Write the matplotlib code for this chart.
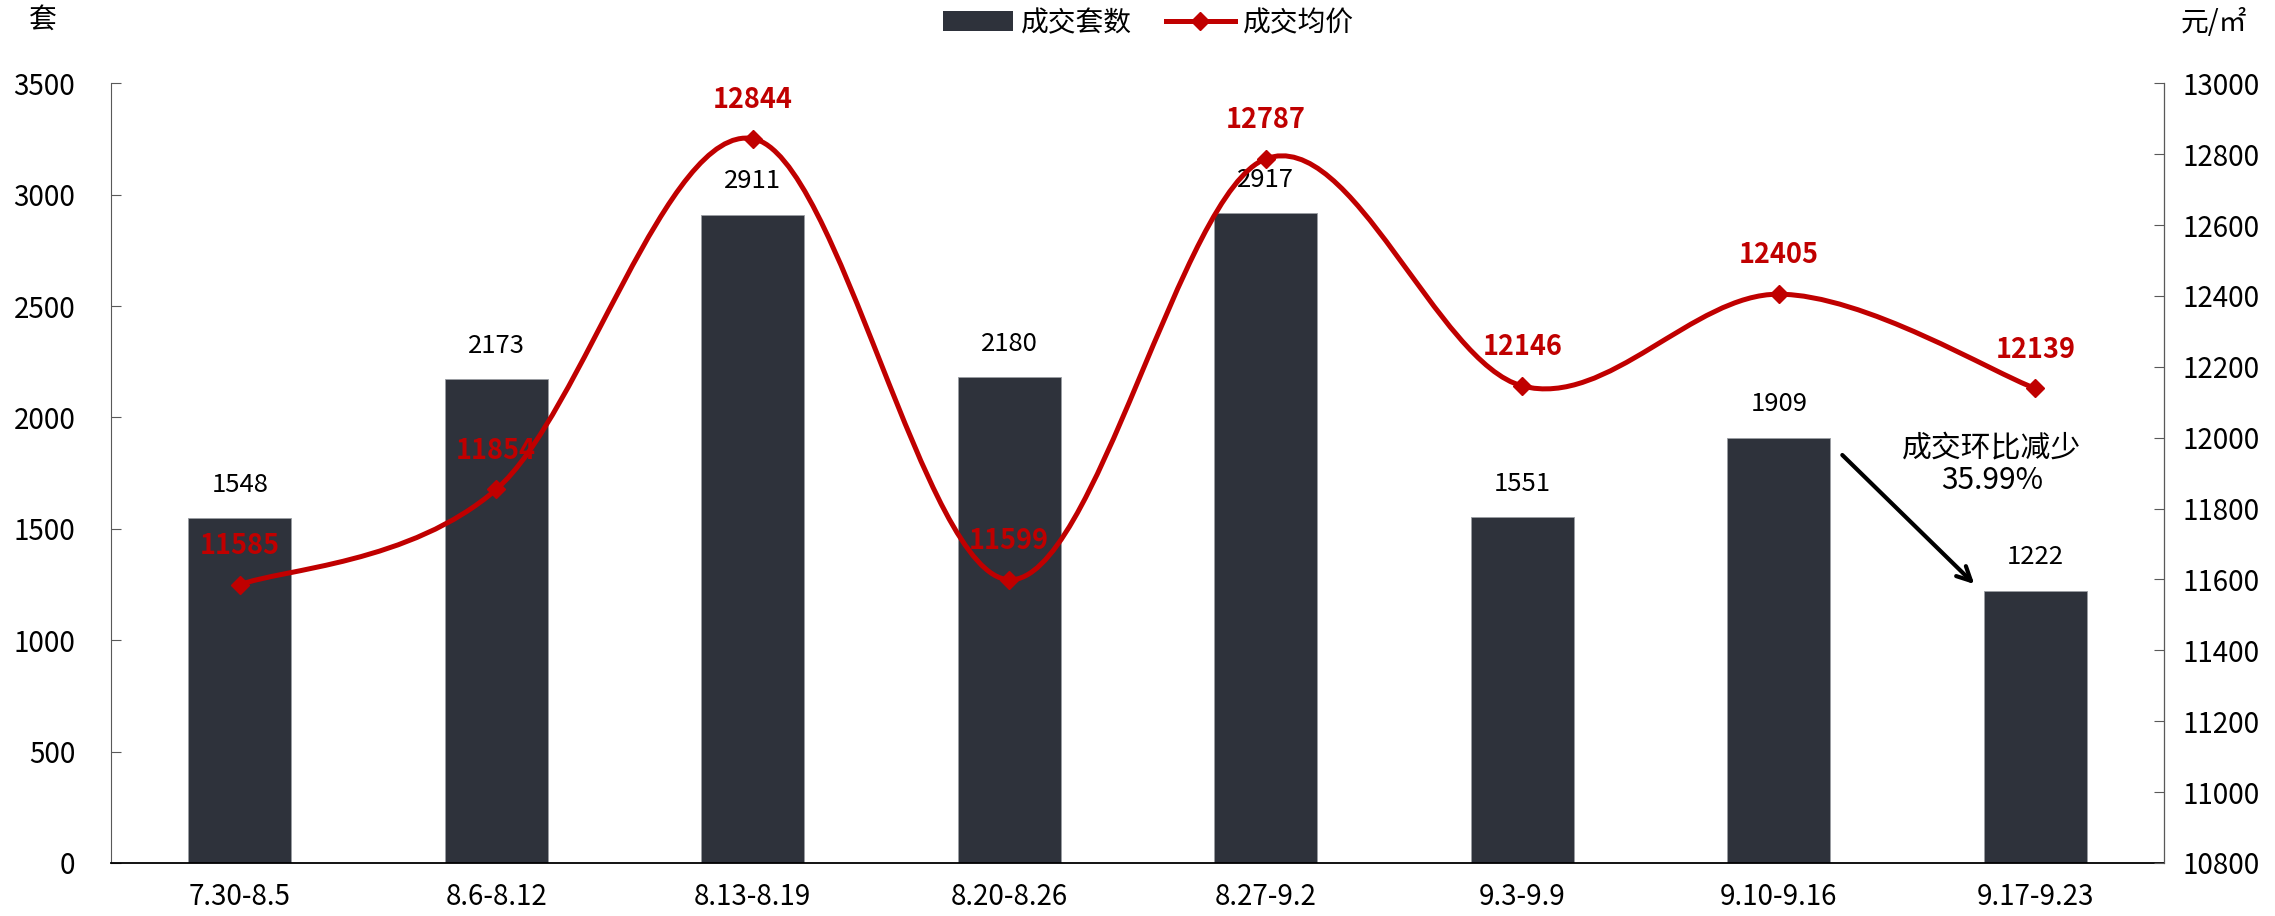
import matplotlib
matplotlib.use("Agg")
import matplotlib.pyplot as plt
from matplotlib.path import Path
from matplotlib.patches import PathPatch, Patch
from matplotlib.lines import Line2D
import numpy as np

plt.rcParams['font.family'] = ['Noto Sans CJK SC', 'DejaVu Sans']

categories = ["7.30-8.5", "8.6-8.12", "8.13-8.19", "8.20-8.26", "8.27-9.2", "9.3-9.9", "9.10-9.16", "9.17-9.23"]
volumes = [1548, 2173, 2911, 2180, 2917, 1551, 1909, 1222]
prices = [11585, 11854, 12844, 11599, 12787, 12146, 12405, 12139]
left_ticks = [0, 500, 1000, 1500, 2000, 2500, 3000, 3500]
right_ticks = list(range(10800, 13001, 200))

BAR_C = "#2E323B"
RED = "#C00000"
TFS = 20
BFS = 18.5
PFS = 19.5
LW = 3.6

fig = plt.figure(figsize=(22.75, 9.16), dpi=100)
ax = fig.add_axes([0.049, 0.058, 0.902, 0.851])
ax2 = ax.twinx()

x = np.arange(len(categories))
ax.bar(x, volumes, width=0.4, color=BAR_C, edgecolor="#9a9da3", linewidth=0.6, zorder=2)
ax.set_xlim(-0.5, len(categories) - 0.5)
ax.set_ylim(0, 3500)
ax.set_yticks(left_ticks)
ax.set_xticks(x)
ax.set_xticklabels(categories, fontsize=TFS)
ax.tick_params(axis='x', length=0, pad=14)
ax.tick_params(axis='y', direction='in', length=7, color="#595959", labelsize=TFS, pad=26)
for v, xi in zip(volumes, x):
    ax.annotate(str(v), (xi, v), xytext=(0, 24), textcoords="offset points",
                ha="center", va="center", fontsize=BFS, color="black", zorder=3)

ax.spines['top'].set_visible(False)
ax.spines['left'].set_color("#595959")
ax.spines['bottom'].set_color("black")
ax.spines['bottom'].set_linewidth(1.3)
ax.patch.set_visible(False)

ax2.set_ylim(10800, 13000)
ax2.set_yticks(right_ticks)
ax2.tick_params(axis='y', direction='in', length=7, color="#595959", labelsize=TFS, pad=14)
ax2.spines['top'].set_visible(False)
ax2.spines['right'].set_color("#595959")
ax2.spines['left'].set_visible(False)
ax2.spines['bottom'].set_visible(False)

# smoothed line (Catmull-Rom style bezier through the data points)
pts = np.column_stack([x.astype(float), np.array(prices, dtype=float)])
ext = np.vstack([pts[0], pts, pts[-1]])
verts = [tuple(pts[0])]
codes = [Path.MOVETO]
for i in range(len(pts) - 1):
    p0, p1, p2, p3 = ext[i], ext[i + 1], ext[i + 2], ext[i + 3]
    c1 = p1 + (p2 - p0) / 6.0
    c2 = p2 - (p3 - p1) / 6.0
    verts += [tuple(c1), tuple(c2), tuple(p2)]
    codes += [Path.CURVE4] * 3
ax2.add_patch(PathPatch(Path(verts, codes), facecolor="none", edgecolor=RED, linewidth=LW, zorder=4))
ax2.plot(x, prices, linestyle="none", marker="D", markersize=9.5, color=RED, zorder=5)
for p, xi in zip(prices, x):
    ax2.annotate(str(p), (xi, p), xytext=(0, 28), textcoords="offset points",
                 ha="center", va="center", fontsize=PFS, color=RED, fontweight="bold", zorder=6)

# annotation arrow
ax.annotate("", xy=(6.77, 1243), xytext=(6.24, 1840),
            arrowprops=dict(arrowstyle="->,head_length=1.0,head_width=0.5", color="black", lw=3), zorder=7)
ax.text(6.83, 1790, "成交环比减少\n35.99%", ha="center", va="center", fontsize=21.5,
        color="black", linespacing=1.1, zorder=7)

# axis unit labels
fig.text(0.019, 0.978, "套", fontsize=TFS, ha="center", va="center")
fig.text(0.973, 0.975, "元/㎡", fontsize=TFS, ha="center", va="center")

handles = [Patch(facecolor=BAR_C), Line2D([0], [0], color=RED, lw=LW, marker="D", markersize=9.5)]
fig.legend(handles, ["成交套数", "成交均价"], loc="center", bbox_to_anchor=(0.505, 0.975),
           ncol=2, frameon=False, fontsize=TFS, handlelength=2.5, columnspacing=1.2, handletextpad=0.3)

fig.savefig("out.png", dpi=100)
